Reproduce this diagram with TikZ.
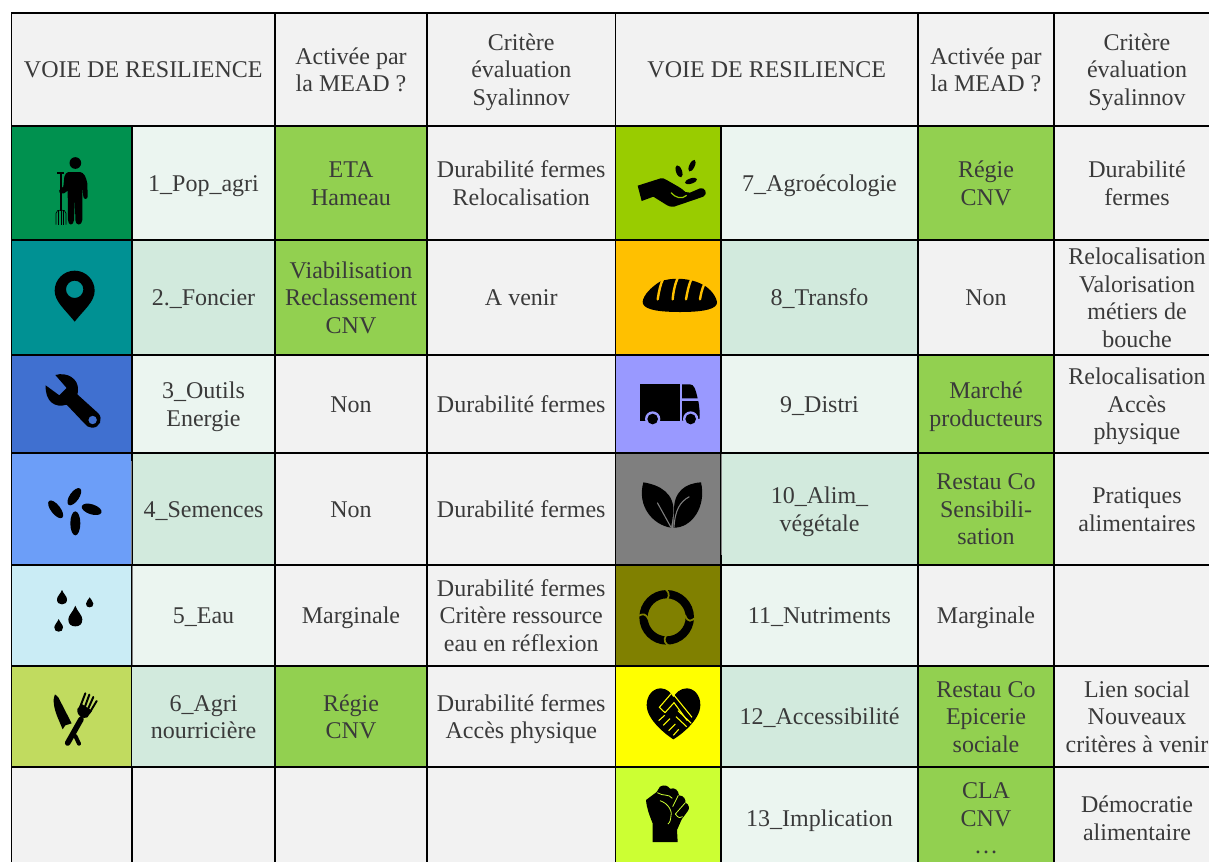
\documentclass[tikz,border=0pt]{standalone}
\usepackage{fontspec}
\setmainfont{Liberation Serif}
\definecolor{gr}{HTML}{F2F2F2}
\definecolor{lt}{HTML}{EBF5F0}
\definecolor{dk}{HTML}{D2EADD}
\definecolor{on}{HTML}{92D050}
\definecolor{txt}{HTML}{3A3A3A}
\definecolor{ca}{HTML}{00914F}
\definecolor{cb}{HTML}{009193}
\definecolor{cc}{HTML}{4070D0}
\definecolor{cd}{HTML}{6C9EF8}
\definecolor{ce}{HTML}{CAECF5}
\definecolor{cf}{HTML}{C1DB5F}
\definecolor{colg}{HTML}{99CC00}
\definecolor{colh}{HTML}{FFC000}
\definecolor{coli}{HTML}{9999FF}
\definecolor{colj}{HTML}{7F7F7F}
\definecolor{colk}{HTML}{808000}
\definecolor{coll}{HTML}{FFFF00}
\definecolor{colm}{HTML}{CCFF33}
\tikzset{
  cellbox/.style={draw=black,line width=1.3pt,inner sep=0pt,outer sep=0pt,align=center,text=txt,
    font=\fontsize{18pt}{20.6pt}\selectfont},
  icon/.style={x=0.25pt,y=-0.25pt},
  softedge/.style={line width=0.75pt},
}
\newcommand\st{\rule[-4pt]{0pt}{20.6pt}}
\newcommand\cell[7]{%
  \pgfmathsetmacro\cw{(#4-#2)*0.75}\pgfmathsetmacro\chh{(#5-#3)*0.75}%
  \node[cellbox,fill=#6,minimum width=\cw pt,minimum height=\chh pt] (#1) at ({(#2+#4)/2},{(#3+#5)/2}) {\st #7\st};}
\newcommand\drop[4]{\fill (#1,#2) .. controls (#1+0.3*#4,#3-#4*1.1) and (#1+#4,#3-#4*0.6) .. (#1+#4,#3)
  .. controls (#1+#4,#3+#4*0.7) and (#1+#4*0.6,#3+#4) .. (#1,#3+#4)
  .. controls (#1-#4*0.6,#3+#4) and (#1-#4,#3+#4*0.7) .. (#1-#4,#3)
  .. controls (#1-#4,#3-#4*0.6) and (#1-0.3*#4,#3-#4*1.1) .. (#1,#2) -- cycle;}
\newcommand\seed[5]{\fill[shift={(#1,#2)},rotate=#5] (0,0) ellipse [x radius=#3,y radius=#4];}
\begin{document}
\begin{tikzpicture}[x=0.75pt,y=-0.75pt]
\useasboundingbox (0,0) rectangle (1209,861);
\clip (0,0) rectangle (1209,861);
% header
\cell{h1}{11.5}{13}{275}{126}{gr}{VOIE DE RESILIENCE}
\cell{h2}{275}{13}{427}{126}{gr}{Activée par\\la MEAD ?}
\cell{h3}{427}{13}{615.5}{126}{gr}{Critère\\évaluation\\Syalinnov}
\cell{h4}{615.5}{13}{918}{126}{gr}{VOIE DE RESILIENCE}
\cell{h5}{918}{13}{1054}{126}{gr}{Activée par\\la MEAD ?}
\cell{h6}{1054}{13}{1220}{126}{gr}{Critère\\évaluation\\Syalinnov}
% left table
\cell{a1}{11.5}{126}{132}{240}{ca}{}
\cell{b1}{132}{126}{275}{240}{lt}{1\_Pop\_agri}
\cell{c1}{275}{126}{427}{240}{on}{ETA\\Hameau}
\cell{d1}{427}{126}{615.5}{240}{gr}{Durabilité fermes\\Relocalisation}
\cell{a2}{11.5}{240}{132}{355}{cb}{}
\cell{b2}{132}{240}{275}{355}{dk}{2.\_Foncier}
\cell{c2}{275}{240}{427}{355}{on}{Viabilisation\\Reclassement\\CNV}
\cell{d2}{427}{240}{615.5}{355}{gr}{A venir}
\cell{a3}{11.5}{355}{132}{453}{cc}{}
\cell{b3}{132}{355}{275}{453}{lt}{3\_Outils\\Energie}
\cell{c3}{275}{355}{427}{453}{gr}{Non}
\cell{d3}{427}{355}{615.5}{453}{gr}{Durabilité fermes}
\cell{a4}{11.5}{453}{132}{565}{cd}{}
\cell{b4}{132}{453}{275}{565}{dk}{4\_Semences}
\cell{c4}{275}{453}{427}{565}{gr}{Non}
\cell{d4}{427}{453}{615.5}{565}{gr}{Durabilité fermes}
\cell{a5}{11.5}{565}{132}{666}{ce}{}
\cell{b5}{132}{565}{275}{666}{lt}{5\_Eau}
\cell{c5}{275}{565}{427}{666}{gr}{Marginale}
\cell{d5}{427}{565}{615.5}{666}{gr}{Durabilité fermes\\Critère ressource\\eau en réflexion}
\cell{a6}{11.5}{666}{132}{767}{cf}{}
\cell{b6}{132}{666}{275}{767}{dk}{6\_Agri\\nourricière}
\cell{c6}{275}{666}{427}{767}{on}{Régie\\CNV}
\cell{d6}{427}{666}{615.5}{767}{gr}{Durabilité fermes\\Accès physique}
\cell{a7}{11.5}{767}{132}{869}{gr}{}
\cell{b7}{132}{767}{275}{869}{gr}{}
\cell{c7}{275}{767}{427}{869}{gr}{}
\cell{d7}{427}{767}{615.5}{869}{gr}{}
% right table
\cell{e1}{615.5}{126}{721}{240}{colg}{}
\cell{f1}{721}{126}{918}{240}{lt}{7\_Agroécologie}
\cell{g1}{918}{126}{1054}{240}{on}{Régie\\CNV}
\cell{k1}{1054}{126}{1220}{240}{gr}{Durabilité\\fermes}
\cell{e2}{615.5}{240}{721}{355}{colh}{}
\cell{f2}{721}{240}{918}{355}{dk}{8\_Transfo}
\cell{g2}{918}{240}{1054}{355}{gr}{Non}
\cell{k2}{1054}{240}{1220}{355}{gr}{Relocalisation\\Valorisation\\métiers de\\bouche}
\cell{e3}{615.5}{355}{721}{453}{coli}{}
\cell{f3}{721}{355}{918}{453}{lt}{9\_Distri}
\cell{g3}{918}{355}{1054}{453}{on}{Marché\\producteurs}
\cell{k3}{1054}{355}{1220}{453}{gr}{Relocalisation\\Accès\\physique}
\cell{e4}{615.5}{453}{721}{565}{colj}{}
\cell{f4}{721}{453}{918}{565}{dk}{10\_Alim\_\\végétale}
\cell{g4}{918}{453}{1054}{565}{on}{Restau Co\\Sensibili-\\sation}
\cell{k4}{1054}{453}{1220}{565}{gr}{Pratiques\\alimentaires}
\cell{e5}{615.5}{565}{721}{666}{colk}{}
\cell{f5}{721}{565}{918}{666}{lt}{11\_Nutriments}
\cell{g5}{918}{565}{1054}{666}{gr}{Marginale}
\cell{k5}{1054}{565}{1220}{666}{gr}{}
\cell{e6}{615.5}{666}{721}{767}{coll}{}
\cell{f6}{721}{666}{918}{767}{dk}{12\_Accessibilité}
\cell{g6}{918}{666}{1054}{767}{on}{Restau Co\\Epicerie\\sociale}
\cell{k6}{1054}{666}{1220}{767}{gr}{Lien social\\Nouveaux\\critères à venir}
\cell{e7}{615.5}{767}{721}{869}{colm}{}
\cell{f7}{721}{767}{918}{869}{lt}{13\_Implication}
\cell{g7}{918}{767}{1054}{869}{on}{CLA\\CNV\\…}
\cell{k7}{1054}{767}{1220}{869}{gr}{Démocratie\\alimentaire}
% softened edges beside some icon cells
\draw[softedge,lt] (722,128) -- (722,239) (722,356) -- (722,452);
\draw[softedge,dk] (722,241) -- (722,354);
\draw[softedge,dk] (133,461) -- (133,564) (132,667) -- (132,766);
\draw[softedge,lt] (133,566) -- (133,665);
\draw[softedge,colj] (131,461) -- (131,564);
\draw[softedge,gray] (132,566) -- (132,665);
\draw[softedge,colj] (721,454) -- (721,555);
% farmer
\begin{scope}[shift={(0,0)},icon]
\fill (226,489) circle [radius=17.5];
\fill (205,516) -- (240,516) .. controls (252,518) and (258,530) .. (262,550) -- (263,590)
 .. controls (262,599) and (251,599) .. (250,590) -- (247,555) -- (247,660)
 .. controls (246,678) and (226,678) .. (226,660) -- (225,590) -- (222,660)
 .. controls (221,678) and (204,678) .. (204,660) -- (203,572) -- (192,580)
 .. controls (180,584) and (172,574) .. (182,566) -- (190,560) -- (193,530) .. controls (195,522) and (200,518) .. (205,516) -- cycle;
\draw[line width=1.3pt] (183,518) -- (183,632);
\draw[line width=1.5pt] (172,518) -- (193,518);
\draw[line width=0.5pt] (168,674) -- (168,640) .. controls (168,632) and (175,630) .. (183,630) .. controls (191,630) and (198,632) .. (198,640) -- (198,674);
\draw[line width=0.5pt] (176,674) -- (176,632) (183,674) -- (183,630) (190,674) -- (190,632);
\end{scope}
% pin
\begin{scope}[shift={(0,240)},icon]
\fill[even odd rule] (224,245) .. controls (195,208) and (164,185) .. (164,152) .. controls (164,119) and (191,92) .. (224,92)
 .. controls (257,92) and (284,119) .. (284,152) .. controls (284,185) and (253,208) .. (224,245) -- cycle
 (224,148) circle [radius=26];
\end{scope}
% wrench
\begin{scope}[shift={(0,240)},icon]
\fill[even odd rule] (137,436) -- (178,466) -- (200,444) -- (166,405) .. controls (200,395) and (236,415) .. (234,450) .. controls (234,456) and (233,460) .. (232,463)
 -- (295,520) .. controls (310,535) and (300,565) .. (275,563) .. controls (265,563) and (260,557) .. (255,552) -- (200,494)
 .. controls (165,505) and (135,485) .. (137,436) -- cycle
 (278,540) circle [radius=13];
\end{scope}
% seeds
\begin{scope}[shift={(0,240)},icon]
\seed{223}{770}{30}{14}{55}
\seed{167}{808}{32}{14}{-52}
\seed{275}{808}{31}{15}{-18}
\seed{226}{850}{36}{15}{90}
\end{scope}
% drops
\begin{scope}[shift={(0,560)},icon]
\drop{186}{90}{118}{15}
\drop{269}{112}{131}{11}
\drop{226}{137}{178}{21}
\drop{176}{177}{202}{13}
\end{scope}
% knife and fork
\begin{scope}[shift={(0,560)},icon]
\fill (165,403) .. controls (158,415) and (160,440) .. (172,470) -- (188,508) -- (196,496) -- (215,490) -- (175,412) -- cycle;
\draw[line width=3pt,line cap=round] (226,528) -- (237,551);
\draw[line width=4.2pt,line cap=round] (203,549) -- (243,478);
\fill (232,447) .. controls (230,470) and (250,478) .. (262,472) -- (276,452) -- (245,432) -- cycle;
\draw[line width=1.5pt,line cap=round] (240,442) -- (256,400) (252,448) -- (268,404) (261,454) -- (280,411) (269,458) -- (290,423);
\end{scope}
% hand and leaves
\begin{scope}[shift={(610,120)},icon]
\fill (83,197) -- (152,175) .. controls (158,173) and (163,176) .. (170,180) -- (205,200) .. controls (218,208) and (222,212) .. (226,216) -- (240,218) -- (270,205)
 .. controls (285,200) and (295,222) .. (280,230) -- (192,260) .. controls (182,262) and (176,258) .. (170,255) -- (130,230) -- (95,243) -- cycle;
\draw[colg,line width=0.9pt] (183,218) .. controls (195,232) and (215,240) .. (230,226);
\seed{207}{154}{19}{9}{-70}
\seed{246}{137}{19}{8}{65}
\seed{243}{183}{19}{8}{18}
\end{scope}
% bread
\begin{scope}[shift={(610,120)},icon]
\fill (98,545) .. controls (100,525) and (125,500) .. (150,485) .. controls (180,472) and (240,472) .. (280,495) .. controls (300,505) and (320,530) .. (321,548)
 .. controls (320,565) and (290,576) .. (210,576) .. controls (130,576) and (97,565) .. (98,545) -- cycle;
\draw[colh,line width=1.8pt,line cap=round] (143,538) .. controls (147,515) and (150,495) .. (160,475);
\draw[colh,line width=1.8pt,line cap=round] (188,538) .. controls (190,515) and (195,490) .. (205,470);
\draw[colh,line width=1.8pt,line cap=round] (228,538) .. controls (232,515) and (236,495) .. (245,475);
\draw[colh,line width=1.8pt,line cap=round] (270,538) .. controls (272,525) and (276,505) .. (284,490);
\end{scope}
% truck
\begin{scope}[shift={(610,120)},icon]
\fill (91,793) -- (210,793) -- (210,902) -- (91,902) -- cycle;
\fill (216,793) -- (240,793) .. controls (252,794) and (256,805) .. (263,835) -- (216,835) -- cycle;
\fill (216,843) -- (265,843) .. controls (268,860) and (270,880) .. (269,896) -- (216,902) -- cycle;
\fill[coli] (128,897) circle [radius=23] (242,897) circle [radius=23];
\fill (128,897) circle [radius=16] (242,897) circle [radius=16];
\end{scope}
% two leaves
\begin{scope}[shift={(610,450)},icon]
\fill (100,97) .. controls (150,105) and (195,130) .. (190,190) -- (183,233) .. controls (130,225) and (80,170) .. (100,97) -- cycle;
\fill (273,97) .. controls (225,100) and (190,125) .. (192,185) -- (190,233) .. controls (245,235) and (290,170) .. (273,97) -- cycle;
\draw[colj,line width=0.8pt] (142,158) -- (183,232);
\draw[colj,line width=0.8pt] (238,140) .. controls (210,155) and (195,180) .. (192,232);
\end{scope}
% cycle
\begin{scope}[shift={(610,450)},icon]
\fill[even odd rule] (170,502) circle [radius=82] (170,502) circle [radius=57];
\draw[colk,line width=1.3pt] (165,416) .. controls (172,422) and (182,430) .. (172,448);
\draw[colk,line width=1.3pt] (254,505) .. controls (245,510) and (235,522) .. (225,495);
\draw[colk,line width=1.3pt] (176,587) .. controls (168,582) and (158,572) .. (168,556);
\draw[colk,line width=1.3pt] (87,497) .. controls (97,492) and (108,488) .. (116,510);
\end{scope}
% heart handshake
\begin{scope}[shift={(610,450)},icon]
\fill (190,868) .. controls (170,855) and (110,810) .. (110,765) .. controls (110,735) and (130,715) .. (152,715)
 .. controls (170,715) and (183,728) .. (190,742) .. controls (197,728) and (212,715) .. (230,715)
 .. controls (252,715) and (271,735) .. (271,765) .. controls (271,810) and (212,855) .. (190,868) -- cycle;
\draw[coll,line width=0.8pt,line join=round] (165,788) -- (148,772) -- (186,728) -- (246,802);
\draw[coll,line width=0.8pt] (165,788) -- (192,758) -- (232,812);
\draw[coll,line width=0.8pt] (204,782) -- (244,820) (198,800) -- (230,830);
\draw[coll,line width=0.8pt] (146,812) -- (164,796) (160,826) -- (180,806) (176,842) -- (196,822) (190,856) -- (206,838);
\end{scope}
% fist
\begin{scope}[shift={(610,450)},icon]
\fill (128,1176) -- (128,1120) .. controls (118,1095) and (110,1075) .. (108,1050) -- (140,1026) -- (150,1010) .. controls (162,1002) and (175,1008) .. (180,1016)
 .. controls (195,1012) and (205,1020) .. (207,1036) .. controls (222,1036) and (228,1050) .. (226,1058) .. controls (238,1062) and (240,1078) .. (232,1085)
 -- (215,1108) -- (201,1140) -- (203,1176) -- cycle;
\draw[colm,line width=0.6pt] (142,1028) .. controls (160,1040) and (175,1030) .. (187,1045) (205,1036) -- (188,1070) (226,1058) -- (196,1092);
\draw[colm,line width=0.6pt] (150,1052) .. controls (175,1060) and (190,1085) .. (182,1105) .. controls (180,1115) and (178,1120) .. (174,1122);
\draw[colm,line width=0.6pt] (196,1092) .. controls (205,1105) and (212,1105) .. (218,1100);
\end{scope}
\end{tikzpicture}
\end{document}
